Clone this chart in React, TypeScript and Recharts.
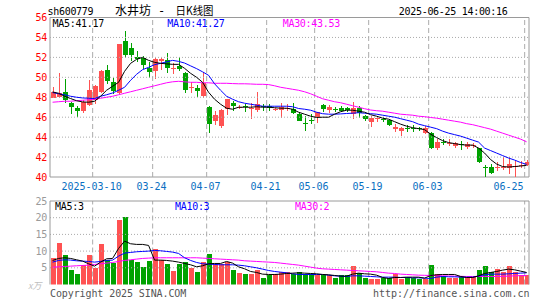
import React from 'react';
import { ComposedChart, Bar, Line, XAxis, YAxis, ReferenceLine, ReferenceArea } from 'recharts';

// ---------------- data ----------------
const dates = [
  '2025-02-27','2025-02-28',
  '2025-03-03','2025-03-04','2025-03-05','2025-03-06','2025-03-07',
  '2025-03-10','2025-03-11','2025-03-12','2025-03-13','2025-03-14',
  '2025-03-17','2025-03-18','2025-03-19','2025-03-20','2025-03-21',
  '2025-03-24','2025-03-25','2025-03-26','2025-03-27','2025-03-28',
  '2025-03-31','2025-04-01','2025-04-02','2025-04-03',
  '2025-04-07','2025-04-08','2025-04-09','2025-04-10','2025-04-11',
  '2025-04-14','2025-04-15','2025-04-16','2025-04-17','2025-04-18',
  '2025-04-21','2025-04-22','2025-04-23','2025-04-24','2025-04-25',
  '2025-04-28','2025-04-29','2025-04-30',
  '2025-05-06','2025-05-07','2025-05-08','2025-05-09',
  '2025-05-12','2025-05-13','2025-05-14','2025-05-15','2025-05-16',
  '2025-05-19','2025-05-20','2025-05-21','2025-05-22','2025-05-23',
  '2025-05-26','2025-05-27','2025-05-28','2025-05-29','2025-05-30',
  '2025-06-03','2025-06-04','2025-06-05','2025-06-06',
  '2025-06-09','2025-06-10','2025-06-11','2025-06-12','2025-06-13',
  '2025-06-16','2025-06-17','2025-06-18','2025-06-19','2025-06-20',
  '2025-06-23','2025-06-24','2025-06-25',
];

const openP = [
  47.95,48.0,48.5,47.4,46.95,46.55,47.2,47.7,48.5,50.75,
  49.5,48.4,53.6,52.9,52.0,51.9,50.9,50.65,51.65,51.7,
  50.9,51.1,50.4,49.0,48.9,48.1,47.0,45.55,45.1,46.8,
  47.45,47.0,47.1,46.85,46.7,47.15,47.1,46.75,46.75,46.85,
  46.8,46.35,45.45,45.7,45.95,47.2,46.65,46.85,46.95,46.95,
  46.3,46.9,46.1,45.55,45.85,45.8,45.7,44.75,44.65,44.95,
  44.9,44.95,44.4,44.4,42.9,43.5,43.4,43.05,43.35,43.0,
  43.2,42.9,41.05,41.05,40.9,40.85,40.9,41.05,41.1,41.25,
];
const highP = [
  49.0,50.4,49.8,47.5,47.1,47.7,49.7,49.2,50.7,51.2,
  49.9,53.3,54.6,53.4,52.6,52.15,51.5,51.9,51.9,52.4,
  51.4,52.0,50.5,49.5,49.2,50.5,47.1,46.6,46.85,47.85,
  47.6,47.2,47.3,47.4,48.5,47.3,47.3,46.95,47.4,47.35,
  47.4,46.45,46.1,46.35,46.55,47.35,47.2,47.0,47.1,47.05,
  47.55,47.1,46.2,46.1,46.1,46.0,45.75,45.35,45.05,45.25,
  45.2,45.05,45.1,44.5,43.8,43.8,43.8,43.5,43.65,43.5,
  43.45,42.95,41.2,41.3,41.5,42.0,42.0,41.6,41.6,41.7,
];
const lowP = [
  47.9,47.9,47.4,46.3,46.05,46.4,47.1,47.3,48.4,49.3,
  48.3,48.3,51.9,51.6,51.5,50.85,49.9,49.85,50.7,50.4,
  50.3,50.6,48.4,48.4,48.0,47.9,44.4,45.2,44.95,46.2,
  46.6,46.8,46.5,45.8,46.55,46.6,46.6,46.6,45.95,46.6,
  46.3,45.6,44.65,45.35,45.45,46.5,46.4,46.5,46.5,46.5,
  45.8,45.9,45.6,45.0,45.55,45.5,45.1,44.5,44.15,44.55,
  44.5,44.6,44.3,42.8,42.75,43.2,43.1,42.9,42.7,42.85,
  42.9,41.4,40.0,40.35,40.6,40.7,40.35,40.05,40.9,41.1,
];
const closeP = [
  48.55,48.4,47.7,46.95,46.65,47.5,48.75,49.1,50.6,49.6,
  48.55,53.3,52.2,52.2,51.8,51.15,50.45,51.85,51.85,50.9,
  50.95,50.8,48.7,49.05,48.55,49.4,45.3,46.2,46.7,47.8,
  47.1,47.05,47.05,46.9,47.35,47.1,46.9,46.8,47.05,46.9,
  46.4,45.65,45.4,45.65,46.5,46.8,47.0,46.8,46.65,46.7,
  46.9,46.35,45.75,45.95,45.9,45.75,45.2,45.0,44.95,44.85,
  44.85,44.85,44.9,42.9,43.5,43.45,43.45,43.4,43.3,43.3,
  43.25,41.5,41.0,40.45,41.0,41.0,41.3,41.1,41.2,41.55,
];
const volume = [
  8.0,12.4,8.7,4.2,3.2,5.7,8.7,4.9,12.0,7.4,
  6.4,19.2,20.2,7.2,6.7,5.2,7.0,10.5,7.2,6.0,
  4.0,6.0,6.7,5.0,3.7,6.7,9.0,6.0,6.0,6.7,
  4.2,3.4,3.0,3.0,4.2,1.9,2.9,3.0,3.6,3.7,
  3.0,3.7,3.2,3.2,2.7,2.7,2.7,2.0,2.7,2.7,
  5.4,3.5,1.9,1.7,1.6,1.9,1.9,3.2,1.7,2.2,
  2.0,1.7,1.7,5.7,3.2,2.4,1.9,1.9,2.4,2.2,
  2.2,4.2,5.4,3.7,4.7,3.7,5.4,3.7,2.7,2.7,
];
const ma5 = [
  48.53,48.4,48.1,47.87,47.65,47.53,47.5,47.6,48.1,48.7,
  49.1,49.5,50.6,51.4,51.8,52.0,51.7,51.5,51.4,51.35,
  51.3,51.3,50.9,50.4,50.0,49.5,48.5,47.8,47.3,46.9,
  46.8,47.0,47.0,47.0,47.05,47.0,47.0,46.95,46.9,46.9,
  46.8,46.5,46.3,46.1,45.97,46.0,46.0,46.3,46.55,46.7,
  46.7,46.6,46.5,46.25,46.1,45.9,45.8,45.55,45.3,45.1,
  44.95,44.85,44.75,44.3,43.95,43.65,43.45,43.35,43.25,43.2,
  43.2,42.9,42.4,41.75,41.3,41.05,41.0,41.05,41.1,41.17,
];
const ma10 = [
  48.47,48.35,48.25,48.1,48.0,47.93,47.9,47.87,48.1,48.25,
  48.43,48.7,49.0,49.7,50.3,50.77,51.0,51.27,51.4,51.55,
  51.7,51.6,51.43,51.15,50.87,50.55,50.2,49.35,48.7,48.1,
  47.8,47.55,47.4,47.3,47.2,47.1,47.1,47.1,47.1,47.1,
  47.05,46.87,46.8,46.7,46.5,46.35,46.3,46.3,46.33,46.37,
  46.4,46.45,46.4,46.35,46.3,46.2,46.1,46.0,45.85,45.7,
  45.55,45.3,45.15,45.0,44.85,44.6,44.4,44.25,44.1,43.9,
  43.7,43.5,42.9,42.65,42.4,42.15,41.9,41.7,41.45,41.27,
];
const ma30 = [
  47.5,47.55,47.6,47.6,47.65,47.7,47.75,47.8,47.9,48.0,
  48.1,48.25,48.4,48.55,48.7,48.85,49.0,49.15,49.3,49.45,
  49.55,49.6,49.55,49.5,49.5,49.45,49.45,49.4,49.4,49.4,
  49.37,49.35,49.35,49.33,49.3,49.3,49.27,49.15,49.0,48.9,
  48.8,48.7,48.55,48.35,48.1,47.85,47.7,47.55,47.45,47.3,
  47.15,47.0,46.85,46.72,46.65,46.6,46.5,46.4,46.3,46.25,
  46.2,46.1,46.05,45.97,45.9,45.8,45.7,45.6,45.5,45.35,
  45.25,45.1,44.95,44.8,44.6,44.4,44.2,44.0,43.8,43.53,
];
const vma5 = [
  7.2,7.8,8.0,7.8,7.4,7.0,6.2,5.5,6.7,7.7,
  7.8,10.8,13.0,12.2,12.0,12.0,11.7,7.3,7.3,7.2,
  7.0,6.7,6.3,5.9,5.3,5.6,6.2,6.3,6.3,6.9,
  6.4,5.3,4.7,3.9,3.6,3.1,3.0,3.0,3.1,3.3,
  3.4,3.5,3.4,3.3,3.2,3.0,2.9,2.7,2.5,2.5,
  3.1,3.4,3.2,3.1,2.8,2.1,1.8,2.1,2.1,2.2,
  2.2,2.2,1.9,2.7,2.9,3.0,3.0,3.0,2.4,2.1,
  2.1,2.6,3.3,3.6,3.9,4.3,4.6,4.4,4.0,3.6,
];
const vma10 = [
  6.7,7.2,7.4,7.3,7.1,7.0,6.9,6.7,6.9,7.2,
  7.3,8.5,9.4,9.6,9.8,9.9,10.0,10.2,10.1,9.9,
  9.7,9.3,8.0,7.2,6.6,6.2,6.1,6.0,5.9,5.9,
  5.9,5.8,5.6,5.3,5.0,4.6,4.2,3.9,3.7,3.5,
  3.2,3.0,3.0,3.0,3.0,3.0,2.8,2.6,2.5,2.4,
  2.6,2.6,2.5,2.4,2.3,2.2,2.2,2.2,2.1,2.1,
  2.0,2.0,1.9,1.8,2.2,2.4,2.3,2.3,2.2,2.2,
  2.2,2.5,2.9,3.1,3.1,3.1,3.2,3.3,3.4,3.5,
];
const vma30 = [
  5.2,5.3,5.4,5.5,5.6,5.7,5.8,6.0,6.2,6.4,
  6.6,6.9,7.2,7.4,7.6,7.8,7.9,8.0,8.0,8.0,
  8.0,8.0,8.0,8.0,8.0,7.9,7.8,7.7,7.6,7.5,
  7.4,7.3,7.1,7.0,6.9,6.8,6.7,6.6,6.4,6.2,
  6.0,5.8,5.5,5.2,4.9,4.7,4.6,4.5,4.4,4.3,
  4.2,4.1,4.0,3.9,3.8,3.6,3.4,3.3,3.1,3.0,
  2.9,2.8,2.75,2.7,2.65,2.6,2.55,2.5,2.45,2.4,
  2.4,2.4,2.4,2.4,2.4,2.45,2.5,2.6,2.65,2.7,
];

const priceTicks = [40, 42, 44, 46, 48, 50, 52, 54, 56];
const volTicks = [5, 10, 15, 20, 25];
const xTickDates = ['2025-03-10','2025-03-24','2025-04-07','2025-04-21','2025-05-06','2025-05-19','2025-06-03','2025-06-25'];
const xTickLabels = ['2025-03-10','03-24','04-07','04-21','05-06','05-19','06-03','06-25'];

const symbolText = 'sh600779';
const titleName = '水井坊';
const titleKind = '日K线图';
const timestamp = '2025-06-25 14:00:16';
const copyright = 'Copyright 2025 SINA.COM';
const siteUrl = 'http://finance.sina.com.cn';
const volUnit = 'x万';

// ---------------- styles ----------------
const RED = '#ff5252';
const GREEN = '#00a200';
const MONO = "'DejaVu Sans Mono', 'Liberation Mono', monospace";
const CJK = "'Noto Sans CJK SC', sans-serif";
const GRID = '#ababab';
const FRAME = '#9a9a9a';
const XBLUE = '#0a6fc2';

const X0 = -0.43;
const X1 = 79.4;
const GRID_SHIFT = 0.32;

const rows = dates.map((date, i) => ({
  i,
  date,
  open: openP[i],
  high: highP[i],
  low: lowP[i],
  close: closeP[i],
  vol: volume[i],
  ma5: ma5[i],
  ma10: ma10[i],
  ma30: ma30[i],
  vma5: vma5[i],
  vma10: vma10[i],
  vma30: vma30[i],
}));

const tickIdx = xTickDates.map((d) => dates.indexOf(d));

const Candle = (props: any) => {
  const { x, y, width, height, payload } = props;
  if (x == null || y == null) return null;
  const top = Math.min(y, y + height);
  const h = Math.abs(height);
  const { open, close, high, low } = payload;
  const py = (p: number) => (high === low ? top : top + ((high - p) / (high - low)) * h);
  const color = close >= open ? RED : GREEN;
  const cx = x + width / 2;
  const bx = Math.round(cx - 2.5);
  const wx = bx + 2.5;
  const bTop = py(Math.max(open, close));
  const bBot = py(Math.min(open, close));
  const bh = Math.max(1, Math.round(bBot - bTop));
  return (
    <g shapeRendering="crispEdges">
      <line x1={wx} x2={wx} y1={Math.round(top)} y2={Math.round(top + h)} stroke={color} strokeWidth={1} />
      <rect x={bx} y={Math.round(bTop)} width={5} height={bh} fill={color} />
    </g>
  );
};

const VolBar = (props: any) => {
  const { x, y, width, height, payload } = props;
  if (x == null || y == null) return null;
  const color = payload.close >= payload.open ? RED : GREEN;
  const cx = x + width / 2;
  const bx = Math.round(cx - 2.5);
  const top = Math.round(Math.min(y, y + height));
  const bot = Math.round(Math.max(y, y + height));
  return <rect x={bx} y={top} width={5} height={Math.max(0, bot - top)} fill={color} shapeRendering="crispEdges" />;
};

const renderXTick = (props: any) => {
  const { x, y, payload } = props;
  const k = tickIdx.indexOf(payload.value);
  const label = k >= 0 ? xTickLabels[k] : '';
  const last = k === tickIdx.length - 1;
  return (
    <text x={x - 3} y={y + 13} textAnchor={last ? 'end' : 'middle'} fill={XBLUE} fontSize={10} fontFamily={MONO}>
      {label}
    </text>
  );
};

const renderPriceTick = (props: any) => {
  const { x, y, payload } = props;
  return (
    <text x={x} y={y + 3.6} textAnchor="end" fill="#ff0000" fontSize={10} fontFamily={MONO} letterSpacing={-0.3}>
      {payload.value}
    </text>
  );
};

const renderVolTick = (props: any) => {
  const { x, y, payload } = props;
  return (
    <text x={x} y={y + 3.6} textAnchor="end" fill="#9a9a9a" fontSize={10} fontFamily={MONO} letterSpacing={-0.3}>
      {payload.value}
    </text>
  );
};

const last = rows.length - 1;

export default function App() {
  return (
    <div style={{ position: 'absolute', left: 0, top: 0, width: 545, height: 300, background: '#fff', overflow: 'hidden' }}>
      <div style={{ position: 'absolute', left: 0, top: 0 }}>
        <ComposedChart width={545} height={196} data={rows} margin={{ top: 17.5, right: 16, bottom: 0, left: 0 }}>
          <XAxis
            dataKey="i"
            type="number"
            domain={[X0, X1]}
            allowDataOverflow
            ticks={tickIdx}
            interval={0}
            tickLine={false}
            axisLine={false}
            tickSize={0}
            tickMargin={0}
            height={19}
            tick={renderXTick}
          />
          <YAxis
            type="number"
            domain={[40, 56]}
            allowDataOverflow
            ticks={priceTicks}
            interval={0}
            width={50}
            tickLine={false}
            axisLine={false}
            tickSize={0}
            tickMargin={3}
            tick={renderPriceTick}
          />
          {priceTicks.slice(1, -1).map((v) => (
            <ReferenceLine key={'h' + v} y={v} stroke={GRID} strokeDasharray="1 2" />
          ))}
          {tickIdx.map((v) => (
            <ReferenceLine key={'v' + v} x={v - GRID_SHIFT} stroke={GRID} strokeDasharray="5 3" />
          ))}
          <ReferenceArea x1={X0} x2={X1} y1={40} y2={56} fill="none" fillOpacity={0} stroke={FRAME} strokeWidth={1} />
          <Bar dataKey={(d: any) => [d.low, d.high]} barSize={5} shape={(p: any) => <Candle {...p} />} isAnimationActive={false} />
          <Line type="linear" dataKey="ma30" stroke="#ff00ff" strokeWidth={1} dot={false} activeDot={false} isAnimationActive={false} />
          <Line type="linear" dataKey="ma10" stroke="#0000ff" strokeWidth={1} dot={false} activeDot={false} isAnimationActive={false} />
          <Line type="linear" dataKey="ma5" stroke="#000000" strokeWidth={1} dot={false} activeDot={false} isAnimationActive={false} />
        </ComposedChart>
      </div>
      <div style={{ position: 'absolute', left: 0, top: 190 }}>
        <ComposedChart width={545} height={110} data={rows} margin={{ top: 11, right: 16, bottom: 15.5, left: 0 }}>
          <XAxis dataKey="i" type="number" domain={[X0, X1]} allowDataOverflow hide height={0} />
          <YAxis
            type="number"
            domain={[0, 25]}
            allowDataOverflow
            ticks={volTicks}
            interval={0}
            width={50}
            tickLine={false}
            axisLine={false}
            tickSize={0}
            tickMargin={3}
            tick={renderVolTick}
          />
          {volTicks.slice(0, -1).map((v) => (
            <ReferenceLine key={'vh' + v} y={v} stroke={GRID} strokeDasharray="1 2" />
          ))}
          {tickIdx.map((v) => (
            <ReferenceLine key={'vv' + v} x={v - GRID_SHIFT} stroke={GRID} strokeDasharray="5 3" />
          ))}
          <ReferenceLine y={25} stroke={FRAME} />
          <ReferenceLine x={X0} stroke={FRAME} />
          <ReferenceLine x={X1} stroke={FRAME} />
          <Bar dataKey="vol" barSize={5} shape={(p: any) => <VolBar {...p} />} isAnimationActive={false} />
          <Line type="linear" dataKey="vma30" stroke="#ff00ff" strokeWidth={1} dot={false} activeDot={false} isAnimationActive={false} />
          <Line type="linear" dataKey="vma10" stroke="#0000ff" strokeWidth={1} dot={false} activeDot={false} isAnimationActive={false} />
          <Line type="linear" dataKey="vma5" stroke="#000000" strokeWidth={1} dot={false} activeDot={false} isAnimationActive={false} />
        </ComposedChart>
      </div>
      <svg width={545} height={300} style={{ position: 'absolute', left: 0, top: 0, pointerEvents: 'none' }}>
        <text x={47.5} y={15} fontSize={10} fontFamily={MONO} letterSpacing={-0.3} fill="#000">{symbolText}</text>
        <text x={115} y={14.5} fontSize={12} fontFamily={CJK} fill="#000">{titleName}</text>
        <text x={161.5} y={14.5} fontSize={12} fontFamily={MONO} textAnchor="middle" fill="#000">-</text>
        <text x={175.5} y={14.5} fontSize={11.5} fontFamily={CJK} fill="#000" textLength={38} lengthAdjust="spacingAndGlyphs">{titleKind}</text>
        <text x={507.5} y={15} fontSize={10} fontFamily={MONO} letterSpacing={-0.3} textAnchor="end" fill="#000">{timestamp}</text>

        <text x={52.5} y={27.3} fontSize={10} fontFamily={MONO} letterSpacing={-0.3} fill="#000">{'MA5:' + ma5[last].toFixed(2)}</text>
        <text x={167.3} y={27.3} fontSize={10} fontFamily={MONO} letterSpacing={-0.3} fill="#0000ff">{'MA10:' + ma10[last].toFixed(2)}</text>
        <text x={282.7} y={27.3} fontSize={10} fontFamily={MONO} letterSpacing={-0.3} fill="#ff00ff">{'MA30:' + ma30[last].toFixed(2)}</text>

        <text x={55} y={209.5} fontSize={10} fontFamily={MONO} letterSpacing={-0.3} fill="#000">{'MA5:' + Math.floor(vma5[last])}</text>
        <text x={175} y={209.5} fontSize={10} fontFamily={MONO} letterSpacing={-0.3} fill="#0000ff">{'MA10:' + Math.floor(vma10[last])}</text>
        <text x={295} y={209.5} fontSize={10} fontFamily={MONO} letterSpacing={-0.3} fill="#ff00ff">{'MA30:' + Math.floor(vma30[last])}</text>

        <text x={28} y={288.5} fontSize={9} fontFamily={CJK} fill="#c0c0c0" fontStyle="italic">{volUnit}</text>
        <text x={50} y={297} fontSize={10} fontFamily={MONO} letterSpacing={-0.1} fill="#555">{copyright}</text>
        <text x={529.5} y={297} fontSize={10} fontFamily={MONO} textAnchor="end" fill="#555">{siteUrl}</text>
      </svg>
    </div>
  );
}
